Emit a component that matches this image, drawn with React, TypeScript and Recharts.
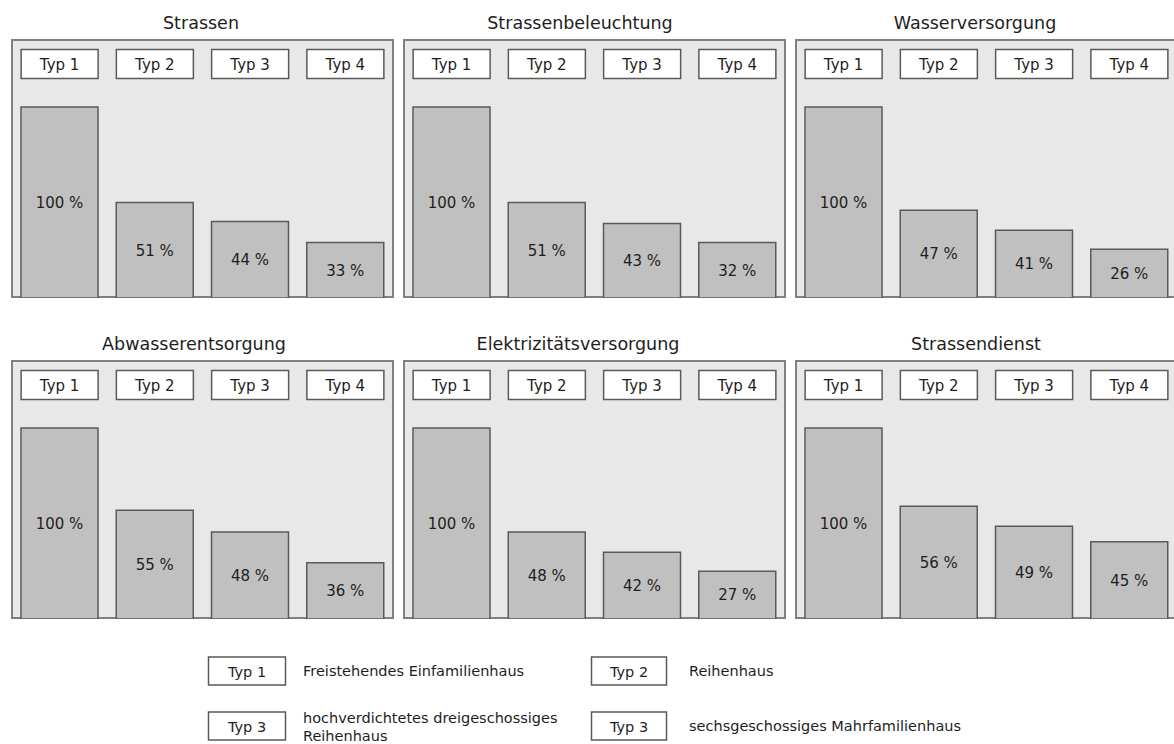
import { BarChart, Bar, XAxis, YAxis, LabelList } from 'recharts';

const categories = ['Typ 1', 'Typ 2', 'Typ 3', 'Typ 4'];

// bar heights as drawn in the figure (%); the printed labels don't quite match them
const strassen = [100, 50, 40, 29];
const strassenLabels = ['100 %', '51 %', '44 %', '33 %'];

const beleuchtung = [100, 50, 39, 29];
const beleuchtungLabels = ['100 %', '51 %', '43 %', '32 %'];

const wasser = [100, 46, 35.5, 25.5];
const wasserLabels = ['100 %', '47 %', '41 %', '26 %'];

const abwasser = [100, 57, 45.5, 29.5];
const abwasserLabels = ['100 %', '55 %', '48 %', '36 %'];

const elektro = [100, 45.5, 35, 25];
const elektroLabels = ['100 %', '48 %', '42 %', '27 %'];

const dienst = [100, 59, 48.5, 40.5];
const dienstLabels = ['100 %', '56 %', '49 %', '45 %'];

const legendKeys = ['Typ 1', 'Typ 2', 'Typ 3', 'Typ 3'];
const legendTexts = [
  ['Freistehendes Einfamilienhaus'],
  ['Reihenhaus'],
  ['hochverdichtetes dreigeschossiges', 'Reihenhaus'],
  ['sechsgeschossiges Mahrfamilienhaus'],
];

const FONT = '"DejaVu Sans", Verdana, sans-serif';
const INK = '#1e1e1e';
const EDGE = '#5a5a5a';

const PANEL_W = 383;
const PANEL_H = 259;
const panelLeft = [11, 403, 795];
const rowTop = [39, 360];
const titleCenter = [
  [201, 580, 975],
  [194, 578, 976],
];

const panels = [
  [
    { title: 'Strassen', values: strassen, labels: strassenLabels },
    { title: 'Strassenbeleuchtung', values: beleuchtung, labels: beleuchtungLabels },
    { title: 'Wasserversorgung', values: wasser, labels: wasserLabels },
  ],
  [
    { title: 'Abwasserentsorgung', values: abwasser, labels: abwasserLabels },
    { title: 'Elektrizitätsversorgung', values: elektro, labels: elektroLabels },
    { title: 'Strassendienst', values: dienst, labels: dienstLabels },
  ],
];

function TypTick({ x, payload }: any) {
  return (
    <g>
      <rect x={x - 38.5} y={10.5} width={77} height={29} fill="#fff" stroke={EDGE} strokeWidth={1.5} />
      <text x={x} y={25.5} textAnchor="middle" dominantBaseline="central" fontSize={15} fill={INK} fontFamily={FONT}>
        {payload.value}
      </text>
    </g>
  );
}

interface PanelProps {
  title: string;
  values: number[];
  labels: string[];
  left: number;
  top: number;
  titleX: number;
}

function Panel({ title, values, labels, left, top, titleX }: PanelProps) {
  const data = categories.map((typ, i) => ({ typ, value: values[i], label: labels[i] }));
  return (
    <>
      <div
        style={{
          position: 'absolute',
          left: titleX - 150,
          top: top - 26,
          width: 300,
          textAlign: 'center',
          fontFamily: FONT,
          fontSize: 17.5,
          lineHeight: '20px',
          color: INK,
          whiteSpace: 'nowrap',
        }}
      >
        {title}
      </div>
      <div style={{ position: 'absolute', left, top, width: PANEL_W, height: PANEL_H }}>
        <div
          style={{
            position: 'absolute',
            inset: 0,
            background: '#e8e8e8',
            border: '2px solid #808080',
            boxSizing: 'border-box',
          }}
        />
        <div style={{ position: 'absolute', left: 0, top: 0 }}>
          <BarChart width={PANEL_W} height={PANEL_H} data={data} margin={{ top: 0, right: 1, bottom: 0, left: 1 }}>
            <XAxis
              dataKey="typ"
              orientation="top"
              height={68}
              axisLine={false}
              tickLine={false}
              interval={0}
              tick={<TypTick />}
            />
            <YAxis hide domain={[0, 100]} />
            <Bar dataKey="value" fill="#c0c0c0" stroke={EDGE} strokeWidth={1.5} barSize={77} isAnimationActive={false}>
              <LabelList dataKey="label" position="center" fill={INK} fontSize={15} fontFamily={FONT} />
            </Bar>
          </BarChart>
        </div>
      </div>
    </>
  );
}

function Legend() {
  const boxX = [208.5, 591.5];
  const textX = [303, 689];
  const rowY = [671, 726];
  return (
    <svg width={1174} height={100} style={{ position: 'absolute', left: 0, top: 644 }}>
      {legendKeys.map((key, i) => {
        const col = i % 2;
        const row = Math.floor(i / 2);
        const cy = rowY[row] - 644;
        const lines = legendTexts[i];
        return (
          <g key={i}>
            <rect x={boxX[col]} y={cy - 14} width={col === 0 ? 77 : 75} height={28} fill="#fff" stroke={EDGE} strokeWidth={1.5} />
            <text
              x={boxX[col] + (col === 0 ? 38.5 : 37.5)}
              y={cy + 1}
              textAnchor="middle"
              dominantBaseline="central"
              fontSize={14.5}
              fill={INK}
              fontFamily={FONT}
            >
              {key}
            </text>
            {lines.map((line, j) => (
              <text
                key={j}
                x={textX[col]}
                y={cy + (lines.length > 1 ? (j === 0 ? -8 : 10) : 0)}
                dominantBaseline="central"
                fontSize={14.5}
                fill={INK}
                fontFamily={FONT}
              >
                {line}
              </text>
            ))}
          </g>
        );
      })}
    </svg>
  );
}

export default function App() {
  return (
    <div
      style={{
        position: 'absolute',
        left: 0,
        top: 0,
        width: 1174,
        height: 744,
        overflow: 'hidden',
        background: '#fff',
      }}
    >
      {panels.map((row, r) =>
        row.map((p, c) => (
          <Panel
            key={`${r}-${c}`}
            title={p.title}
            values={p.values}
            labels={p.labels}
            left={panelLeft[c]}
            top={rowTop[r]}
            titleX={titleCenter[r][c]}
          />
        ))
      )}
      <Legend />
    </div>
  );
}
